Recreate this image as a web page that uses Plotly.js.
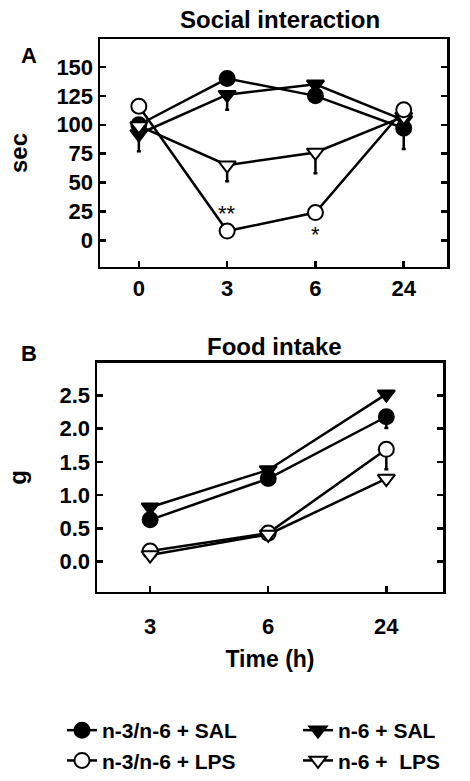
<!DOCTYPE html>
<html>
<head>
<meta charset="utf-8">
<script src="https://cdn.plot.ly/plotly-3.0.1.min.js"></script>
<style>html,body{margin:0;padding:0;background:#fff;}#chart{width:470px;height:781px;}</style>
</head>
<body>
<div id="chart"></div>
<script>
// ---- Data ----
const timesA = ["0", "3", "6", "24"];
const timesB = ["3", "6", "24"];
const seriesNames = ["n-3/n-6 + SAL", "n-3/n-6 + LPS", "n-6 + SAL", "n-6 +  LPS"];

// Panel A: Social interaction (sec)
const socN3SAL = [100, 140, 125, 97];
const socN3SALerr = [8, 5, 5, 18];
const socN3LPS = [116, 8, 24, 113];
const socN3LPSerr = [4, 3, 5, 4];
const socN6SAL = [92, 126, 135, 104];
const socN6SALerr = [15, 13, 5, 5];
const socN6LPS = [99, 65, 76, 107];
const socN6LPSerr = [5, 14, 18, 5];

// Panel B: Food intake (g)
const foodN3SAL = [0.63, 1.25, 2.18];
const foodN3SALerr = [0.05, 0.05, 0.17];
const foodN3LPS = [0.16, 0.43, 1.69];
const foodN3LPSerr = [0.03, 0.03, 0.3];
const foodN6SAL = [0.82, 1.38, 2.52];
const foodN6SALerr = [0.05, 0.05, 0.05];
const foodN6LPS = [0.10, 0.41, 1.25];
const foodN6LPSerr = [0.03, 0.03, 0.05];

const ticksA = [0, 25, 50, 75, 100, 125, 150];
const ticksB = [0, 0.5, 1.0, 1.5, 2.0, 2.5];

// ---- Styles ----
const FONT = "Liberation Sans, Arial, Helvetica, sans-serif";
const styles = [
  {symbol: "circle", fill: "black", legend: "legend"},
  {symbol: "circle", fill: "white", legend: "legend"},
  {symbol: "triangle-down", fill: "black", legend: "legend2"},
  {symbol: "triangle-down", fill: "white", legend: "legend2"}
];

function makeTrace(x, y, err, i, xa, ya, showlegend) {
  const s = styles[i];
  return {
    type: "scatter", mode: "lines+markers",
    x: x, y: y, xaxis: xa, yaxis: ya,
    name: seriesNames[i], showlegend: showlegend, legend: s.legend,
    line: {color: "black", width: 2.5},
    marker: {symbol: s.symbol, size: 15, color: s.fill, line: {color: "black", width: 2}},
    error_y: {type: "data", symmetric: false, array: y.map(() => 0), arrayminus: err,
              color: "black", thickness: 2.5, width: 2},
    cliponaxis: false
  };
}

const data = [
  // panel A (filled drawn under open)
  makeTrace(timesA, socN3SAL, socN3SALerr, 0, "x", "y", true),
  makeTrace(timesA, socN6SAL, socN6SALerr, 2, "x", "y", true),
  makeTrace(timesA, socN6LPS, socN6LPSerr, 3, "x", "y", true),
  makeTrace(timesA, socN3LPS, socN3LPSerr, 1, "x", "y", true),
  // panel B
  makeTrace(timesB, foodN6SAL, foodN6SALerr, 2, "x2", "y2", false),
  makeTrace(timesB, foodN3SAL, foodN3SALerr, 0, "x2", "y2", false),
  makeTrace(timesB, foodN3LPS, foodN3LPSerr, 1, "x2", "y2", false),
  makeTrace(timesB, foodN6LPS, foodN6LPSerr, 3, "x2", "y2", false)
];

const W = 470, H = 781;
const px = v => v / W;
const py = v => (H - v) / H;

const bold = (size) => ({family: FONT, size: size, color: "black", weight: "bold"});
const axBase = {
  showline: true, linecolor: "black", linewidth: 2.5,
  ticks: "inside", ticklen: 6, tickwidth: 2.5, tickcolor: "black",
  showgrid: false, zeroline: false, tickfont: bold(22), fixedrange: true
};

const layout = {
  width: W, height: H,
  margin: {l: 0, r: 0, t: 0, b: 0},
  paper_bgcolor: "white", plot_bgcolor: "white",
  font: {family: FONT, color: "black"},
  xaxis: Object.assign({}, axBase, {
    type: "category", categoryorder: "array", categoryarray: timesA,
    domain: [px(100), px(447)], range: [-0.44, 3.49], anchor: "y", mirror: true,
    ticklabelstandoff: 12.5
  }),
  yaxis: Object.assign({}, axBase, {
    domain: [py(272), py(40)], range: [-22.9, 174], anchor: "x",
    tickvals: ticksA, mirror: "allticks",
    title: {text: "sec", font: bold(24), standoff: 22}
  }),
  xaxis2: Object.assign({}, axBase, {
    type: "category", categoryorder: "array", categoryarray: timesB,
    domain: [px(97), px(443)], range: [-0.45, 2.48], anchor: "y2", mirror: true,
    ticklabelstandoff: 13,
    title: {text: "Time (h)", font: bold(23), standoff: 13}
  }),
  yaxis2: Object.assign({}, axBase, {
    domain: [py(603.5), py(370)], range: [-0.454, 2.99], anchor: "x2",
    tickvals: ticksB, tickformat: ".1f", mirror: "allticks",
    title: {text: "g", font: bold(24), standoff: 26}
  }),
  legend: {
    x: px(62), y: py(724), xanchor: "left", yanchor: "top", orientation: "v",
    font: bold(21), bgcolor: "rgba(0,0,0,0)", borderwidth: 0, traceorder: "normal"
  },
  legend2: {
    x: px(298), y: py(724), xanchor: "left", yanchor: "top", orientation: "v",
    font: bold(21), bgcolor: "rgba(0,0,0,0)", borderwidth: 0, traceorder: "normal"
  },
  annotations: [
    {text: "Social interaction", xref: "paper", yref: "paper", x: px(280), y: py(20),
     xanchor: "center", yanchor: "middle", showarrow: false, font: bold(24)},
    {text: "Food intake", xref: "paper", yref: "paper", x: px(274), y: py(353),
     xanchor: "center", yanchor: "middle", showarrow: false, font: bold(24)},
    {text: "A", xref: "paper", yref: "paper", x: px(29), y: py(57),
     xanchor: "center", yanchor: "middle", showarrow: false, font: bold(22)},
    {text: "B", xref: "paper", yref: "paper", x: px(29), y: py(360),
     xanchor: "center", yanchor: "middle", showarrow: false, font: bold(22)},
    {text: "**", xref: "x", yref: "y", x: 1, y: 23, showarrow: false,
     yanchor: "middle", font: {family: FONT, size: 22, color: "black"}},
    {text: "*", xref: "x", yref: "y", x: 2, y: 5, showarrow: false,
     yanchor: "middle", font: {family: FONT, size: 22, color: "black"}}
  ]
};

Plotly.newPlot("chart", data, layout, {staticPlot: true, displayModeBar: false});
</script>
</body>
</html>
